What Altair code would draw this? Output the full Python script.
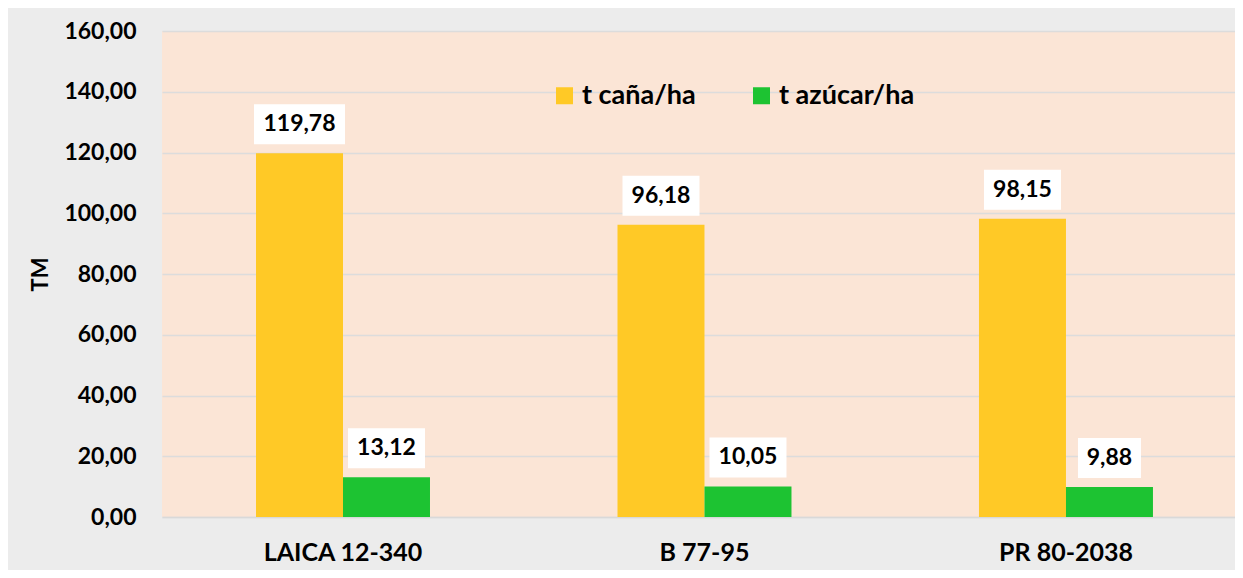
import altair as alt
import pandas as pd

categories = ["LAICA 12-340", "B 77-95", "PR 80-2038"]
series = ["t caña/ha", "t azúcar/ha"]
cana = [119.78, 96.18, 98.15]
azucar = [13.12, 10.05, 9.88]
y_ticks = [0, 20, 40, 60, 80, 100, 120, 140, 160]
colors = ["#FFC926", "#1DC332"]

rows = []
for c, v1, v2 in zip(categories, cana, azucar):
    rows.append({"variedad": c, "serie": series[0], "valor": v1})
    rows.append({"variedad": c, "serie": series[1], "valor": v2})
df = pd.DataFrame(rows)

FONT = "Lato"

x_enc = alt.X(
    "variedad:N",
    sort=categories,
    scale=alt.Scale(paddingInner=0.5187, paddingOuter=0.2435, align=0.534),
    axis=alt.Axis(
        title=None, labelAngle=0, ticks=False, tickSize=0, labelFont=FONT,
        labelFontSize=25, labelFontWeight="bold", labelColor="#000000",
        labelPadding=23, domainColor="#D9D9D9", domainWidth=1.5, grid=False,
    ),
)
xo_enc = alt.XOffset("serie:N", sort=series, scale=alt.Scale(paddingInner=0, paddingOuter=0))
y_enc = alt.Y(
    "valor:Q",
    scale=alt.Scale(domain=[0, 160], nice=False),
    axis=alt.Axis(
        values=y_ticks, title="TM", labelExpr="replace(format(datum.value, '.2f'), '.', ',')",
        labelFont=FONT, labelFontSize=23, labelFontWeight="bold", labelColor="#000000",
        labelPadding=26, ticks=False, tickSize=0, domain=False,
        gridColor="#DCDCDC", gridWidth=1.5,
        titleFont=FONT, titleFontSize=22, titleFontWeight="bold", titleColor="#000000",
        titleAngle=270, titleX=-122, titleY=243, titleAlign="center", titleBaseline="middle",
    ),
)

base = alt.Chart(df)

bars = base.mark_bar(strokeWidth=0).encode(
    x=x_enc,
    xOffset=xo_enc,
    y=y_enc,
    color=alt.Color(
        "serie:N",
        sort=series,
        scale=alt.Scale(domain=series, range=colors),
        legend=alt.Legend(
            orient="none", legendX=389, legendY=51, direction="horizontal", title=None,
            symbolType="square", symbolSize=289, symbolStrokeWidth=0, symbolOpacity=1,
            labelFont=FONT, labelFontSize=27, labelFontWeight="bold", labelColor="#000000",
            labelOffset=4, columnPadding=52, padding=0, labelLimit=300,
        ),
    ),
)

labeled = base.transform_calculate(
    label="replace(format(datum.valor, '.2f'), '.', ',')"
).transform_calculate(
    hw="(7 + 14*length(datum.label))/100"
).transform_calculate(
    box="'M' + (-datum.hw) + ',-0.4H' + datum.hw + 'V0.4H' + (-datum.hw) + 'Z'"
)

boxes = labeled.mark_point(
    filled=True, color="#FFFFFF", opacity=1, size=10000, yOffset=-29, strokeWidth=0
).encode(
    x=alt.X("variedad:N", sort=categories),
    xOffset=alt.XOffset("serie:N", sort=series),
    y=alt.Y("valor:Q"),
    shape=alt.Shape("box:N", scale=None, legend=None),
)

texts = labeled.mark_text(
    font=FONT, fontSize=23, fontWeight="bold", color="#000000", dy=-29, baseline="middle"
).encode(
    x=alt.X("variedad:N", sort=categories),
    xOffset=alt.XOffset("serie:N", sort=series),
    y=alt.Y("valor:Q"),
    text="label:N",
)

chart = (
    alt.layer(bars, boxes, texts)
    .properties(
        width=1073, height=486,
        autosize=alt.AutoSizeParams(type="none"),
        padding={"left": 154, "top": 23, "right": 0, "bottom": 53},
        background="#ECECEC",
    )
    .configure_view(fill="#FBE5D6", strokeWidth=0)
)

chart.save("out.html", embed_options={"renderer": "svg", "actions": False})
